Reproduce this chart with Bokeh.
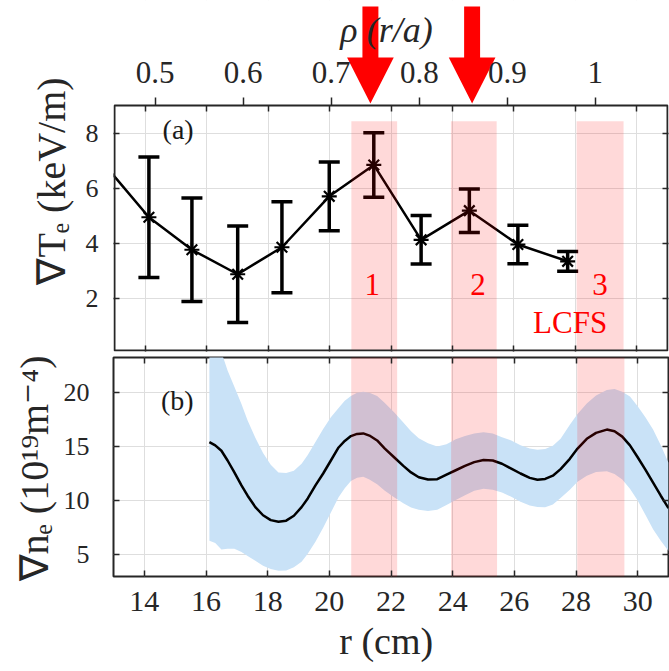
from bokeh.plotting import figure
from bokeh.layouts import column
from bokeh.models import Range1d, LinearAxis, FixedTicker
from bokeh.core.properties import value
from bokeh.embed import file_html
from bokeh.resources import INLINE

# ---------------- data ----------------
# panel (a): electron temperature gradient
r_te = [12.6, 14.12, 15.52, 17.01, 18.45, 19.99, 21.44, 22.98, 24.55, 26.13, 27.75]
te_grad = [6.95, 4.94, 3.76, 2.87, 3.85, 5.70, 6.84, 4.12, 5.18, 3.95, 3.34]
te_err = [2.2, 2.19, 1.88, 1.75, 1.65, 1.25, 1.17, 0.88, 0.79, 0.70, 0.36]

# panel (b): density gradient with uncertainty band
r_ne = [16.11, 16.3, 16.5, 16.7, 16.92, 17.15, 17.35, 17.6, 17.85, 18.1, 18.35, 18.6,
        18.85, 19.1, 19.3, 19.55, 19.8, 20.05, 20.3, 20.5, 20.7, 20.9, 21.1, 21.3,
        21.55, 21.8, 22.1, 22.4, 22.65, 22.9, 23.2, 23.5, 23.8, 24.1, 24.4, 24.7,
        25.0, 25.3, 25.6, 25.9, 26.2, 26.5, 26.75, 27.0, 27.25, 27.5, 27.8, 28.05,
        28.35, 28.65, 29.0, 29.25, 29.5, 29.75, 30.0, 30.25, 30.5, 30.75, 31.0]
ne_grad = [15.4, 15.1, 14.6, 13.7, 12.6, 11.4, 10.45, 9.4, 8.65, 8.2, 8.05, 8.15,
           8.6, 9.4, 10.2, 11.4, 12.5, 13.7, 14.9, 15.5, 15.95, 16.15, 16.2, 16.0,
           15.55, 14.8, 14.0, 13.2, 12.6, 12.15, 11.95, 11.98, 12.4, 12.8, 13.2, 13.55,
           13.75, 13.7, 13.4, 12.95, 12.5, 12.1, 11.93, 12.0, 12.3, 12.9, 13.85, 14.8,
           15.7, 16.25, 16.55, 16.4, 15.9, 15.1, 14.0, 12.85, 11.65, 10.45, 9.3]
ne_upper = [27.5, 25.8, 23.7, 22.0, 20.5, 18.9, 17.4, 15.8, 14.4, 13.3, 12.6, 12.55,
            12.75, 13.4, 14.2, 15.4, 16.6, 17.7, 18.55, 19.2, 19.65, 19.95, 20.05, 19.95,
            19.65, 19.0, 18.15, 17.2, 16.4, 15.75, 15.3, 15.0, 15.2, 15.65, 15.95, 16.2,
            16.3, 16.2, 15.85, 15.55, 15.1, 14.8, 14.7, 14.75, 15.05, 15.7, 17.0, 18.0,
            18.95, 19.7, 20.2, 20.3, 20.05, 19.6, 18.7, 17.7, 16.55, 15.1, 13.5]
ne_lower = [6.3, 6.1, 5.5, 5.55, 5.55, 5.25, 4.9, 4.45, 4.0, 3.7, 3.52, 3.55,
            3.85, 4.35, 5.1, 6.2, 7.5, 8.9, 10.3, 11.15, 11.8, 12.1, 12.2, 11.95,
            11.5, 10.9, 10.3, 9.75, 9.37, 9.15, 9.05, 9.15, 9.6, 10.05, 10.5, 10.9,
            11.1, 11.0, 10.75, 10.35, 9.9, 9.55, 9.4, 9.38, 9.65, 10.25, 11.0, 11.75,
            12.3, 12.65, 12.7, 12.45, 11.95, 11.1, 10.0, 8.7, 7.35, 6.3, 5.35]

# highlighted radial regions
band_left = [20.71, 23.95, 28.04]
band_right = [22.2, 25.44, 29.57]
band_top_a = 8.43
band_names = ["1", "2", "3"]
band_name_r = [21.39, 24.83, 28.8]
band_name_y = 2.51
lcfs_r = 27.83
lcfs_y = 1.11

# arrows pointing at regions 1 and 2 (radius, top of shaft, tip), panel (a) units
arrow_r = [21.33, 24.64]
arrow_top = 12.6
arrow_tip = 9.07

minor_radius = 28.65  # a, for rho = r/a

r_lim = (13, 31)
te_lim = (0.1, 9)
ne_lim = (3, 23.2)
te_space_top = 12.814   # panel (a) units at the very top (room for arrows / rho axis)

r_ticks = [14, 16, 18, 20, 22, 24, 26, 28, 30]
te_ticks = [2, 4, 6, 8]
ne_ticks = [5, 10, 15, 20]
rho_ticks = [0.5, 0.6, 0.7, 0.8, 0.9, 1.0]

# ---------------- style ----------------
FONT = "Liberation Serif"
AX = "#262626"
GRID = "#dedede"
RED_BAND_ALPHA = 0.15
BLUE = "#c9e2f7"
SHAFT_HALF = 0.26    # cm
HEAD_HALF = 0.76     # cm
HEAD_LEN = 1.67      # panel (a) y units
PAD_X = 1 / 30.83    # one pixel in cm
PAD_Y = 1 / 27.53    # one pixel in panel (a) units


def tick_only(ax, ticks, tin=6, tout=0):
    ax.ticker = FixedTicker(ticks=ticks)
    ax.axis_line_color = None
    ax.major_tick_in = tin
    ax.major_tick_out = tout
    ax.major_tick_line_color = AX
    ax.major_tick_line_width = 1.5
    ax.minor_tick_line_color = None
    ax.major_label_text_font_size = "1px"
    ax.major_label_text_color = None
    ax.major_label_standoff = 0


def labelled(ax, ticks, size, standoff, tin=6, tout=0):
    ax.ticker = FixedTicker(ticks=ticks)
    ax.axis_line_color = None
    ax.major_tick_in = tin
    ax.major_tick_out = tout
    ax.major_tick_line_color = AX
    ax.major_tick_line_width = 1.5
    ax.minor_tick_line_color = None
    ax.major_label_text_font = FONT
    ax.major_label_text_font_size = size
    ax.major_label_text_color = AX
    ax.major_label_standoff = standoff
    ax.axis_label_text_font = FONT
    ax.axis_label_text_font_style = "normal"
    ax.axis_label_text_color = AX


# ---------------- panel (a) ----------------
# the frame of this figure also covers the strip above the panel, so that the
# arrows can be drawn there; the panel box itself is drawn as an outlined quad.
pa = figure(width=669, height=353,
            x_range=Range1d(r_lim[0] - PAD_X, r_lim[1] + PAD_X),
            y_range=Range1d(te_lim[0] - PAD_Y, te_space_top),
            output_backend="svg", toolbar_location=None,
            min_border_left=112, min_border_right=0, min_border_top=0,
            min_border_bottom=2)
pa.background_fill_color = "white"
pa.border_fill_color = "white"
pa.outline_line_color = None

tick_only(pa.xaxis[0], r_ticks)
labelled(pa.yaxis[0], te_ticks, "26px", 15)
pa.yaxis[0].bounds = te_lim
pa.yaxis[0].axis_label = "∇Tₑ  (keV/m)"
pa.yaxis[0].axis_label_text_font_size = "40px"
pa.yaxis[0].axis_label_standoff = 9

ra = LinearAxis(bounds=te_lim)
tick_only(ra, te_ticks)
pa.add_layout(ra, "right")

ta = LinearAxis(fixed_location=te_lim[1])
tick_only(ta, r_ticks)
pa.add_layout(ta, "above")

pa.extra_x_ranges = {"rho": Range1d((r_lim[0] - PAD_X) / minor_radius,
                                    (r_lim[1] + PAD_X) / minor_radius)}
rho_ax = LinearAxis(x_range_name="rho", fixed_location=te_lim[1])
labelled(rho_ax, rho_ticks, "31px", 14, tin=0, tout=8)
rho_ax.major_label_overrides = {1: "1"}
rho_ax.axis_label = "ρ  (r/a)"
rho_ax.axis_label_text_font_size = "36px"
rho_ax.axis_label_text_font_style = "italic"
rho_ax.axis_label_standoff = 10
pa.add_layout(rho_ax, "above")

for g in pa.grid:
    g.grid_line_color = GRID
    g.grid_line_width = 1
    g.level = "image"
pa.xgrid.ticker = FixedTicker(ticks=r_ticks)
pa.ygrid.ticker = FixedTicker(ticks=te_ticks)

# blank the strip above the panel (hides the vertical grid lines there)
pa.quad(left=[r_lim[0] - 1], right=[r_lim[1] + 1], bottom=[te_lim[1]],
        top=[te_space_top + 1], fill_color="white", line_color=None, level="underlay")

te_lo = [v - e for v, e in zip(te_grad, te_err)]
te_hi = [v + e for v, e in zip(te_grad, te_err)]
pa.line(r_te, te_grad, line_color="black", line_width=2.5)
pa.segment(x0=r_te, y0=te_lo, x1=r_te, y1=te_hi, line_color="black", line_width=3.5)
pa.scatter(r_te, te_hi, marker="dash", size=21, line_color="black", line_width=3.5)
pa.scatter(r_te, te_lo, marker="dash", size=21, line_color="black", line_width=3.5)
pa.scatter(r_te, te_grad, marker="asterisk", size=15, line_color="black", line_width=2.2)

pa.quad(left=band_left, right=band_right, bottom=[te_lim[0]] * 3, top=[band_top_a] * 3,
        fill_color="red", fill_alpha=RED_BAND_ALPHA, line_color=None)

pa.text(x=band_name_r, y=[band_name_y] * 3, text=band_names, text_color="red",
        text_font=value(FONT), text_font_size="31px", text_align="center",
        text_baseline="middle")
pa.text(x=[lcfs_r], y=[lcfs_y], text=["LCFS"], text_color="red",
        text_font=value(FONT), text_font_size="31px", text_align="center",
        text_baseline="middle")
pa.text(x=[15.07], y=[8.14], text=["(a)"], text_color="#1a1a1a",
        text_font=value(FONT), text_font_size="28px", text_align="center",
        text_baseline="middle")

# panel box
pa.quad(left=[r_lim[0]], right=[r_lim[1]], bottom=[te_lim[0]], top=[te_lim[1]],
        fill_color=None, line_color=AX, line_width=2)

# arrows
neck = arrow_tip + HEAD_LEN
arrow_xs = [[xr - SHAFT_HALF, xr + SHAFT_HALF, xr + SHAFT_HALF, xr + HEAD_HALF, xr,
             xr - HEAD_HALF, xr - SHAFT_HALF] for xr in arrow_r]
arrow_ys = [[arrow_top, arrow_top, neck, neck, arrow_tip, neck, neck] for _ in arrow_r]
pa.patches(xs=arrow_xs, ys=arrow_ys, fill_color="red", line_color=None)

# ---------------- panel (b) ----------------
pb = figure(width=669, height=318, x_range=Range1d(*r_lim), y_range=Range1d(*ne_lim),
            output_backend="svg", toolbar_location=None,
            min_border_left=113, min_border_right=1, min_border_top=4,
            min_border_bottom=95)
pb.background_fill_color = "white"
pb.border_fill_color = "white"
pb.outline_line_color = AX
pb.outline_line_width = 2

labelled(pb.xaxis[0], r_ticks, "30px", 15)
pb.xaxis[0].axis_label = "r  (cm)"
pb.xaxis[0].axis_label_text_font_size = "38px"
pb.xaxis[0].axis_label_standoff = 6
labelled(pb.yaxis[0], ne_ticks, "26px", 24)
pb.yaxis[0].axis_label = "∇nₑ  (10¹⁹m⁻⁴)"
pb.yaxis[0].axis_label_text_font_size = "40px"
pb.yaxis[0].axis_label_standoff = 4

rb = LinearAxis()
tick_only(rb, ne_ticks)
pb.add_layout(rb, "right")
tb = LinearAxis()
tick_only(tb, r_ticks)
pb.add_layout(tb, "above")

for g in pb.grid:
    g.grid_line_color = GRID
    g.grid_line_width = 1
pb.xgrid.ticker = FixedTicker(ticks=r_ticks)
pb.ygrid.ticker = FixedTicker(ticks=ne_ticks)

pb.varea(x=r_ne, y1=ne_lower, y2=ne_upper, fill_color=BLUE)
pb.line(r_ne, ne_grad, line_color="black", line_width=2.5)
pb.quad(left=band_left, right=band_right, bottom=[ne_lim[0] - 2] * 3,
        top=[ne_lim[1] + 2] * 3,
        fill_color="red", fill_alpha=RED_BAND_ALPHA, line_color=None)
pb.text(x=[15.07], y=[19.23], text=["(b)"], text_color="#1a1a1a",
        text_font=value(FONT), text_font_size="28px", text_align="center",
        text_baseline="middle")

layout = column(pa, pb, spacing=0)
open("out.html", "w").write(file_html(layout, INLINE))
